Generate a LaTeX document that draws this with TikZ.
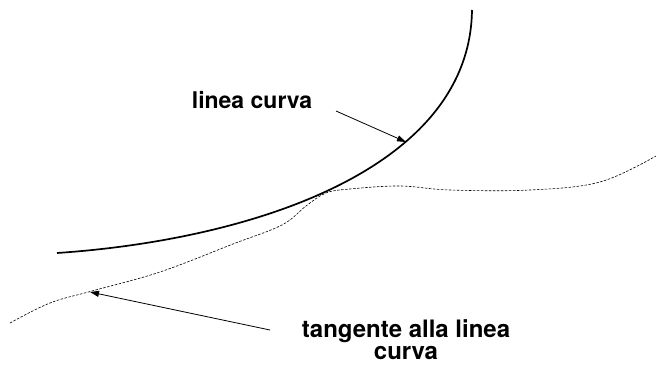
\documentclass[tikz,border=0pt]{standalone}
\usepackage{fontspec}
\setmainfont{TeX Gyre Heros}
\usetikzlibrary{positioning,arrows.meta}

\begin{document}
\begin{tikzpicture}[x=1pt, y=-1pt,
  font=\bfseries\fontsize{23}{22}\selectfont,
  curva/.style={line width=1.7pt, black},
  tang/.style={dash pattern=on 2.5pt off 1.5pt, line width=0.6pt, black},
  freccia/.style={-{Triangle[length=9pt,width=6pt]}, line width=0.8pt},
  lbl/.style={inner sep=0pt, align=center}]
\useasboundingbox (0,0) rectangle (656,366);
% Curva (linea piena)
\draw[curva] (57,253) .. controls (250,240) and (470,170) .. (472,10);
% Tangente (tratteggiata)
\draw[tang] plot[smooth, tension=0.6] coordinates {(10,323) (50,303) (92,291)
  (160,272) (233,244) (282,225) (306,206) (326,193) (350,189) (400,186)
  (450,190) (530,190) (600,182) (656,156)};
% Etichette
\node[lbl] (lcurva) at (252,100) {linea curva};
\node[lbl, font=\bfseries\fontsize{24}{22}\selectfont] (ltang) at (406,340)
  {tangente alla linea\\curva};
\coordinate (pcurva) at (406,142);
\coordinate (ptang) at (90,292);
\coordinate (scurva) at (336,111);
\coordinate (stang) at (270,330);
\draw[freccia] (scurva) -- (pcurva);
\draw[freccia] (stang) -- (ptang);
\end{tikzpicture}
\end{document}
